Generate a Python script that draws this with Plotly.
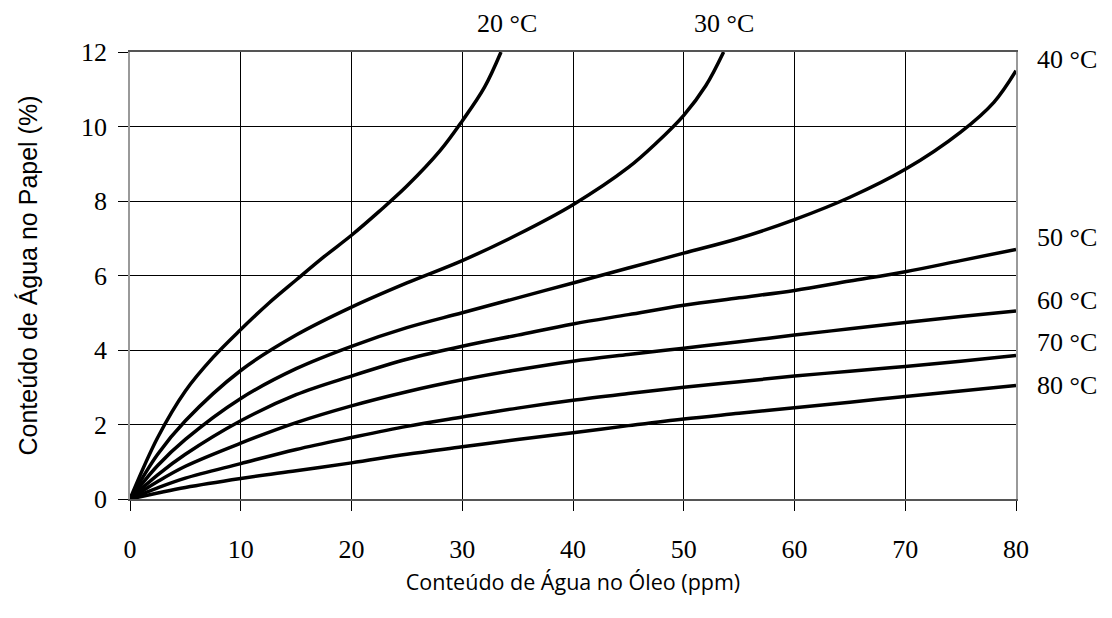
import plotly.graph_objects as go

x_ppm = [0, 2.5, 5, 10, 15, 20, 25, 30, 35, 40, 45, 50, 55, 60, 65, 70, 75, 80]

temps = ["20 °C", "30 °C", "40 °C", "50 °C", "60 °C", "70 °C", "80 °C"]

c20_x = [0, 2.5, 5, 7.5, 10, 12.5, 15, 17.5, 20, 22.5, 25, 28, 30, 32, 33.5]
c20_y = [0, 1.65, 2.9, 3.8, 4.55, 5.25, 5.88, 6.5, 7.08, 7.72, 8.4, 9.35, 10.15, 11.05, 12.0]

c30_x = [0, 2.5, 5, 10, 15, 20, 25, 30, 35, 40, 45, 47.5, 50, 52, 53.6]
c30_y = [0, 1.2, 2.1, 3.45, 4.4, 5.15, 5.8, 6.4, 7.1, 7.9, 8.9, 9.55, 10.3, 11.1, 12.0]

c40_x = [0, 2.5, 5, 10, 15, 20, 25, 30, 35, 40, 45, 50, 55, 60, 65, 70, 75, 78, 80]
c40_y = [0, 0.9, 1.6, 2.7, 3.5, 4.1, 4.6, 5.0, 5.4, 5.8, 6.2, 6.6, 7.0, 7.5, 8.1, 8.85, 9.85, 10.65, 11.5]

c50_x = x_ppm
c50_y = [0, 0.65, 1.2, 2.1, 2.8, 3.3, 3.75, 4.1, 4.4, 4.7, 4.95, 5.2, 5.4, 5.6, 5.85, 6.1, 6.4, 6.7]

c60_x = x_ppm
c60_y = [0, 0.47, 0.88, 1.5, 2.05, 2.5, 2.88, 3.2, 3.47, 3.7, 3.88, 4.05, 4.22, 4.4, 4.57, 4.74, 4.9, 5.05]

c70_x = x_ppm
c70_y = [0, 0.3, 0.56, 0.95, 1.33, 1.65, 1.95, 2.2, 2.44, 2.65, 2.83, 3.0, 3.15, 3.3, 3.43, 3.56, 3.7, 3.85]

c80_x = x_ppm
c80_y = [0, 0.16, 0.31, 0.55, 0.76, 0.97, 1.2, 1.4, 1.6, 1.78, 1.97, 2.15, 2.3, 2.45, 2.6, 2.75, 2.9, 3.05]

curves = [(c20_x, c20_y), (c30_x, c30_y), (c40_x, c40_y), (c50_x, c50_y),
          (c60_x, c60_y), (c70_x, c70_y), (c80_x, c80_y)]

x_ticks = [0, 10, 20, 30, 40, 50, 60, 70, 80]
y_ticks = [0, 2, 4, 6, 8, 10, 12]

SERIF = "Times New Roman, Liberation Serif, serif"

fig = go.Figure()
for (cx, cy), name in zip(curves, temps):
    fig.add_trace(go.Scatter(x=cx, y=cy, mode="lines", name=name,
                             line=dict(color="black", width=3.5, shape="spline", smoothing=1.0),
                             cliponaxis=True, showlegend=False, hoverinfo="skip"))

# top labels (20 °C, 30 °C) above the plot, right labels beside it
top_labels = [(temps[0], 34.0), (temps[1], 53.6)]
for name, lx in top_labels:
    fig.add_annotation(x=lx, y=1.10, xref="x", yref="paper", text=name, showarrow=False,
                       font=dict(family=SERIF, size=26, color="black"))
right_labels = [(temps[2], 11.8), (temps[3], 7.03), (temps[4], 5.34), (temps[5], 4.19), (temps[6], 3.06)]
for name, ly in right_labels:
    fig.add_annotation(x=1.022, y=ly, xref="paper", yref="y", text=name, showarrow=False,
                       xanchor="left", font=dict(family=SERIF, size=26, color="black"))

fig.update_layout(
    width=1112, height=618,
    margin=dict(l=122, r=104, t=44, b=127),
    paper_bgcolor="white", plot_bgcolor="white",
    font=dict(family=SERIF, size=20, color="black"),
)
fig.update_xaxes(range=[0, 80], tickvals=x_ticks, ticktext=[str(v) for v in x_ticks],
                 showgrid=True, gridcolor="black", gridwidth=1.3,
                 showline=True, linecolor="#555", linewidth=2, mirror=True,
                 ticks="outside", ticklen=10, tickcolor="black", tickwidth=1.3,
                 ticklabelstandoff=16,
                 zeroline=False, tickfont=dict(family=SERIF, size=26, color="black"),
                 title=dict(text="Conteúdo de Água no Óleo (ppm)",
                            font=dict(family="Open Sans", size=21.5, color="black"), standoff=12))
fig.update_yaxes(range=[0, 12], tickvals=y_ticks, ticktext=[str(v) for v in y_ticks],
                 showgrid=True, gridcolor="black", gridwidth=1.3,
                 showline=True, linecolor="#999", linewidth=1.5, mirror=True,
                 ticks="outside", ticklen=10, tickcolor="black", tickwidth=1.3,
                 ticklabelstandoff=6,
                 zeroline=False, tickfont=dict(family=SERIF, size=26, color="black"),
                 title=dict(text="Conteúdo de Água no Papel (%)",
                            font=dict(family="Liberation Sans", size=25, color="black"), standoff=36))

fig.write_html("out.html")
